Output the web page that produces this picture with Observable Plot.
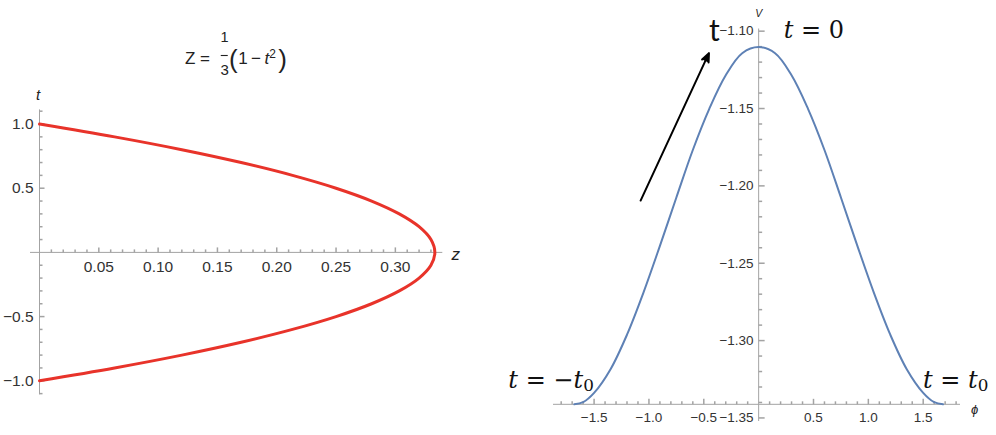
<!DOCTYPE html>
<html><head><meta charset="utf-8">
<script src="https://cdn.jsdelivr.net/npm/d3@7"></script>
<script src="https://cdn.jsdelivr.net/npm/@observablehq/plot@0.6"></script>
<style>
body{margin:0;background:#fff;}
#wrap{position:relative;width:996px;height:435px;overflow:hidden;background:#fff;}
#wrap svg{position:absolute;top:0;overflow:visible;}
</style></head><body><div id="wrap"></div>
<script>
// ---------- Left panel: Z = (1 - t^2)/3 ----------
const tValues = [-1.0,-0.9,-0.8,-0.7,-0.6,-0.5,-0.4,-0.3,-0.2,-0.1,0,0.1,0.2,0.3,0.4,0.5,0.6,0.7,0.8,0.9,1.0];
const zValues = [0,0.0633,0.12,0.17,0.2133,0.25,0.28,0.3033,0.32,0.33,0.3333,0.33,0.32,0.3033,0.28,0.25,0.2133,0.17,0.12,0.0633,0];
const zMajorTicks = [0.05,0.10,0.15,0.20,0.25,0.30];
const zTickLabels = ["0.05","0.10","0.15","0.20","0.25","0.30"];
const tMajorTicks = [1.0,0.5,-0.5,-1.0];
const tTickLabels = ["1.0","0.5","\u22120.5","\u22121.0"];

// ---------- Right panel: V(phi) ----------
const phiValues = [-1.68,-1.6,-1.5,-1.35,-1.2,-1.05,-0.9,-0.75,-0.6,-0.45,-0.3,-0.15,0,0.15,0.3,0.45,0.6,0.75,0.9,1.05,1.2,1.35,1.5,1.6,1.68];
const vValues = [-1.3412,-1.3398,-1.3338,-1.3185,-1.2962,-1.2690,-1.2388,-1.2075,-1.1768,-1.1502,-1.1285,-1.1143,-1.1103,-1.1143,-1.1285,-1.1502,-1.1768,-1.2075,-1.2388,-1.2690,-1.2962,-1.3185,-1.3338,-1.3398,-1.3412];
const phiMajorTicks = [-1.5,-1.0,-0.5,0.5,1.0,1.5];
const phiTickLabels = ["\u22121.5","\u22121.0","\u22120.5","0.5","1.0","1.5"];
const vMajorTicks = [-1.10,-1.15,-1.20,-1.25,-1.30,-1.35];
const vTickLabels = ["\u22121.10","\u22121.15","\u22121.20","\u22121.25","\u22121.30","\u22121.35"];
const arrowPhi = [-1.076,-0.453];
const arrowV = [-1.2095,-1.1142];

// ---------- helpers ----------
const axisColor = "#a3a3a3";
const labelColor = "#333";
const redCurve = "#e8332a";
const blueCurve = "#5e81b5";
const sans = "Liberation Sans, Arial, sans-serif";
const mathFont = "DejaVu Serif, serif";
const minorTicks = (lo, hi, step, majors) =>
  d3.range(Math.round(lo/step), Math.round(hi/step) + 1)
    .map(k => +(k*step).toFixed(4))
    .filter(v => v !== 0 && !majors.some(m => Math.abs(m - v) < 1e-9));
const tickUp = L => ({draw(c){ c.moveTo(0,0); c.lineTo(0,-L); }});
const tickRight = L => ({draw(c){ c.moveTo(0,0); c.lineTo(L,0); }});
const hBar = L => ({draw(c){ c.moveTo(-L/2,0); c.lineTo(L/2,0); }});

const leftData = tValues.map((t,i) => ({t, z: zValues[i]}));
const rightData = phiValues.map((phi,i) => ({phi, v: vValues[i]}));
const vMin = d3.min(vValues);
const zMinor = minorTicks(0.01, 0.33, 0.01, zMajorTicks);
const tMinor = minorTicks(-1.1, 1.1, 0.1, tMajorTicks);
const phiMinor = minorTicks(-1.8, 1.8, 0.1, phiMajorTicks);
const vMinor = minorTicks(-1.35, -1.10, 0.01, vMajorTicks);

const zDomain = [-0.0076, 0.34];
const tDomain = [-1.11, 1.11];
const phiDomain = [-1.87, 1.84];
const vDomain = [-1.3523, -1.0986];

const titleText = (s, dx, dy, o = {}) => Plot.text([s], {text: d => d, frameAnchor: "top", dx, dy, lineAnchor: "bottom", fill: "#222", fontFamily: sans, ...o});

const left = Plot.plot({
  width: 490, height: 435,
  marginLeft: 30, marginRight: 47.7, marginTop: 109.4, marginBottom: 40.6,
  x: {domain: zDomain, axis: null},
  y: {domain: tDomain, axis: null},
  style: {fontFamily: sans, background: "white", overflow: "visible"},
  marks: [
    Plot.ruleY([0], {stroke: axisColor, strokeWidth: 1}),
    Plot.ruleX([0], {stroke: axisColor, strokeWidth: 1}),
    Plot.dot(zMinor, {x: d => d, y: 0, symbol: tickUp(3), stroke: axisColor, fill: "none"}),
    Plot.dot(zMajorTicks, {x: d => d, y: 0, symbol: tickUp(5), stroke: axisColor, fill: "none"}),
    Plot.dot(tMinor, {x: 0, y: d => d, symbol: tickRight(3), stroke: axisColor, fill: "none"}),
    Plot.dot(tMajorTicks, {x: 0, y: d => d, symbol: tickRight(5), stroke: axisColor, fill: "none"}),
    Plot.text(zMajorTicks, {x: d => d, y: 0, text: (d,i) => zTickLabels[i], dy: 15, fill: labelColor, fontSize: 15.5}),
    Plot.text(tMajorTicks, {x: 0, y: d => d, text: (d,i) => tTickLabels[i], dx: -6, textAnchor: "end", fill: labelColor, fontSize: 15.5}),
    Plot.text(["z"], {text: d => d, x: zDomain[1], y: 0, dx: 13, dy: 2, fontStyle: "italic", fontSize: 17, fill: "#222"}),
    Plot.text(["t"], {text: d => d, x: 0, y: tDomain[1], dx: -1.5, dy: -15, fontStyle: "italic", fontSize: 15, fill: "#222"}),
    Plot.line(leftData, {x: "z", y: "t", stroke: redCurve, strokeWidth: 3, curve: "catmull-rom"}),
    titleText("Z =", -26.6, -46.1, {textAnchor: "end", fontSize: 17}),
    titleText("1", -12, -73, {lineAnchor: "middle", fontSize: 14.5}),
    Plot.dot([0], {frameAnchor: "top", dx: -12.4, dy: -54.4, symbol: hBar(7), stroke: "#222", strokeWidth: 1.1, fill: "none"}),
    titleText("3", -12, -40.2, {lineAnchor: "middle", fontSize: 15}),
    titleText("(", -7.6, -41.9, {textAnchor: "start", fontSize: 26, fontWeight: 300}),
    titleText("1\u2009\u2212\u2009t2", 1.6, -46.1, {textAnchor: "start", fontSize: 17}),
    titleText(")", 41.5, -41.9, {textAnchor: "start", fontSize: 26, fontWeight: 300})
  ]
});

const right = Plot.plot({
  width: 506, height: 435,
  marginLeft: 63, marginRight: 36, marginTop: 28.5, marginBottom: 14,
  x: {domain: phiDomain, axis: null},
  y: {domain: vDomain, axis: null},
  style: {fontFamily: sans, background: "white", overflow: "visible"},
  marks: [
    Plot.ruleY([vMin], {stroke: axisColor, strokeWidth: 1}),
    Plot.ruleX([0], {stroke: axisColor, strokeWidth: 1}),
    Plot.dot(phiMinor, {x: d => d, y: vMin, symbol: tickUp(3), stroke: axisColor, fill: "none"}),
    Plot.dot(phiMajorTicks, {x: d => d, y: vMin, symbol: tickUp(5.5), stroke: axisColor, fill: "none"}),
    Plot.dot(vMinor, {x: 0, y: d => d, symbol: tickRight(3.5), stroke: axisColor, fill: "none"}),
    Plot.dot(vMajorTicks, {x: 0, y: d => d, symbol: tickRight(6), stroke: axisColor, fill: "none"}),
    Plot.text(phiMajorTicks, {x: d => d, y: vMin, text: (d,i) => phiTickLabels[i], dy: 13.5, fill: labelColor, fontSize: 13.5}),
    Plot.text(vMajorTicks, {x: 0, y: d => d, text: (d,i) => vTickLabels[i], dx: -5, textAnchor: "end", fill: labelColor, fontSize: 13.5}),
    Plot.text(["V"], {text: d => d, x: 0, y: vDomain[1], dy: -15.5, fontStyle: "italic", fontSize: 10.5, fill: "#222"}),
    Plot.text(["\u03d5"], {text: d => d, x: phiDomain[1], y: vMin, dx: 14, dy: 5.5, fontStyle: "italic", fontSize: 13, fill: "#222"}),
    Plot.line(rightData, {x: "phi", y: "v", stroke: blueCurve, strokeWidth: 2, curve: "catmull-rom"}),
    Plot.arrow([{x1: arrowPhi[0], y1: arrowV[0], x2: arrowPhi[1], y2: arrowV[1]}], {x1: "x1", y1: "y1", x2: "x2", y2: "y2", stroke: "black", fill: "black", strokeWidth: 2, headLength: 7, headAngle: 45}),
    Plot.text([{phi: arrowPhi[1], v: arrowV[1]}], {x: "phi", y: "v", text: () => "t", dx: 0, dy: -12, textAnchor: "start", lineAnchor: "bottom", fontFamily: "Lato, Open Sans, sans-serif", fontSize: 30, fill: "#111"}),
    Plot.text([rightData[12]], {x: "phi", y: "v", text: () => "t = 0", dx: 25, dy: -8.7, textAnchor: "start", lineAnchor: "bottom", fontFamily: mathFont, fontSize: 24, fill: "#111"}),
    Plot.text([rightData[0]], {x: "phi", y: "v", text: () => "t = \u2212t0", dx: -66, dy: -16.6, textAnchor: "start", lineAnchor: "bottom", fontFamily: mathFont, fontSize: 24, fill: "#111"}),
    Plot.text([rightData[rightData.length-1]], {x: "phi", y: "v", text: () => "t = t0", dx: -20, dy: -16.6, textAnchor: "start", lineAnchor: "bottom", fontFamily: mathFont, fontSize: 24, fill: "#111"})
  ]
});

// rich text: italic variables, sub/superscripts
const rich = {
  "1\u2009\u2212\u2009t2": [{s: "1\u2009\u2212\u2009"}, {s: "t", italic: true}, {s: "2", size: "0.7em", dy: "-0.45em"}],
  "t = 0": [{s: "t", italic: true}, {s: " = 0"}],
  "t = \u2212t0": [{s: "t", italic: true}, {s: " = \u2212"}, {s: "t", italic: true}, {s: "0", size: "0.7em", dy: "0.22em"}],
  "t = t0": [{s: "t", italic: true}, {s: " = "}, {s: "t", italic: true}, {s: "0", size: "0.7em", dy: "0.22em"}]
};
function richify(svg) {
  d3.select(svg).selectAll("text").each(function() {
    const parts = rich[this.textContent];
    if (!parts || this.querySelector("tspan")) return;
    const sel = d3.select(this);
    sel.text(null);
    for (const p of parts) {
      const ts = sel.append("tspan").text(p.s);
      if (p.italic) ts.attr("font-style", "italic");
      if (p.size) ts.attr("font-size", p.size);
      if (p.dy) ts.attr("dy", p.dy);
    }
  });
}
richify(left); richify(right);

left.style.left = "0px";
right.style.left = "490px";
const wrap = document.getElementById("wrap");
wrap.appendChild(left);
wrap.appendChild(right);
</script>
</body></html>
